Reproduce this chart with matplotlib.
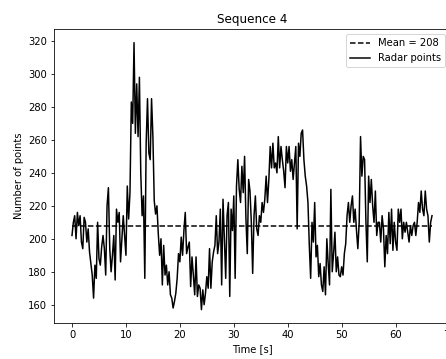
import numpy as np
import matplotlib
matplotlib.use("Agg")
import matplotlib.pyplot as plt

# radar point count per frame, sampled every 0.25 s
sample_step = 0.25
radar_points = [
    202, 210, 214, 200, 216, 208, 214, 198,
    194, 213, 210, 198, 206, 192, 185, 178,
    164, 184, 176, 210, 188, 184, 195, 202,
    194, 178, 220, 231, 194, 180, 190, 202,
    175, 218, 210, 216, 186, 200, 214, 202,
    190, 232, 212, 228, 283, 270, 319, 264,
    294, 262, 298, 240, 214, 226, 176, 258,
    285, 252, 248, 285, 262, 223, 215, 220,
    203, 190, 200, 172, 196, 178, 184, 172,
    180, 166, 164, 158, 162, 167, 176, 191,
    186, 201, 190, 205, 216, 191, 195, 198,
    171, 189, 178, 166, 189, 165, 172, 170,
    157, 169, 160, 167, 177, 170, 194, 170,
    186, 192, 196, 214, 191, 198, 218, 172,
    224, 200, 176, 214, 222, 165, 218, 205,
    226, 176, 232, 248, 230, 222, 244, 228,
    250, 212, 191, 236, 229, 210, 179, 214,
    226, 206, 202, 214, 210, 222, 216, 224,
    238, 222, 236, 256, 243, 258, 243, 246,
    240, 262, 243, 256, 248, 241, 231, 256,
    246, 256, 241, 248, 236, 246, 256, 206,
    258, 250, 264, 266, 248, 238, 232, 222,
    196, 176, 210, 198, 222, 189, 196, 177,
    185, 172, 168, 183, 166, 200, 185, 172,
    230, 180, 191, 204, 180, 189, 178, 177,
    183, 178, 191, 197, 214, 222, 210, 220,
    226, 210, 218, 205, 194, 210, 262, 238,
    250, 248, 210, 186, 238, 222, 236, 220,
    210, 229, 202, 210, 210, 198, 214, 206,
    183, 202, 191, 216, 197, 218, 193, 210,
    198, 193, 218, 210, 218, 200, 210, 204,
    210, 204, 198, 208, 202, 208, 210, 202,
    210, 222, 216, 229, 218, 214, 229, 218,
    214, 198, 210, 214,
]
mean_points = 208

time_s = np.arange(len(radar_points)) * sample_step

fig = plt.figure(figsize=(446 / 72, 359 / 72), dpi=72)
ax = fig.add_axes([54 / 446, 36 / 359, 396 / 446, 293.7 / 359])

ax.plot([time_s[0], time_s[-1]], [mean_points, mean_points], "k--", label=f"Mean = {mean_points}")
ax.plot(time_s, radar_points, "k-", label="Radar points")

ax.set_title("Sequence 4")
ax.set_xlabel("Time [s]")
ax.set_ylabel("Number of points")
ax.set_xticks(range(0, 80, 10))
ax.legend(loc="upper right")

fig.savefig("out.png", dpi=72)
